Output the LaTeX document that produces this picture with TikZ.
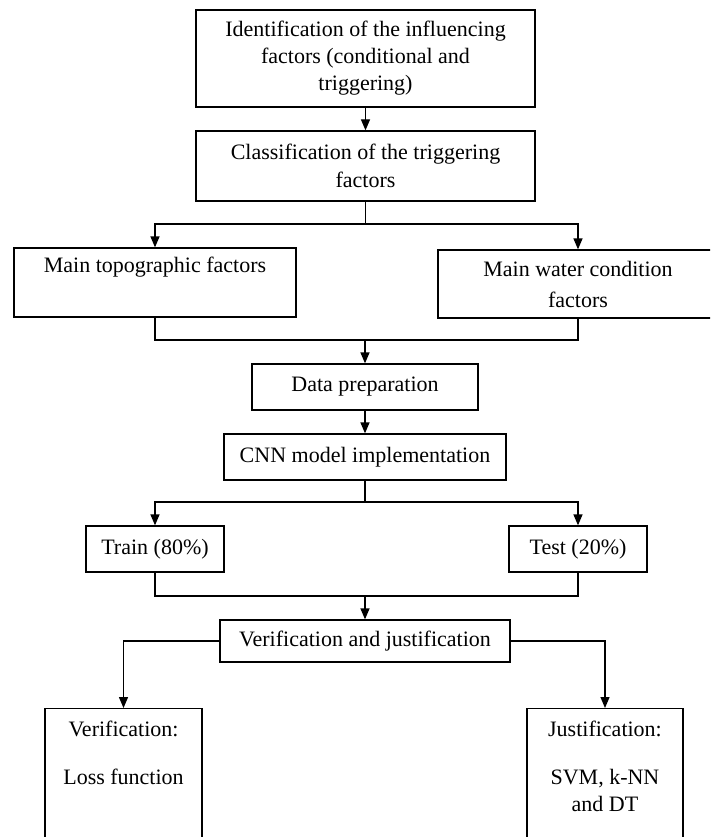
\documentclass[tikz,border=0pt]{standalone}
\usepackage{fontspec}
\setmainfont{Liberation Serif}
\usetikzlibrary{arrows.meta}
\begin{document}
\begin{tikzpicture}[x=1pt,y=-1pt,
  font=\fontsize{22pt}{27pt}\selectfont,
  box/.style={draw, line width=1.3pt, align=center, inner sep=0pt},
  conn/.style={line width=1.3pt},
  arr/.style={conn, -{Triangle[length=11pt,width=9pt]}}]
\useasboundingbox (0,0) rectangle (710,837);
\clip (0,0) rectangle (710,837);
\fill[white] (0,0) rectangle (710,837);
% boxes
\node[box, minimum width=339pt, minimum height=97pt] (b1) at (365.5,58.5)
  {Identification of the influencing\\factors (conditional and\\triggering)};
\node[box, minimum width=339pt, minimum height=70pt] (b2) at (365.5,166)
  {Classification of the triggering\\[1pt]factors};
\node[box, minimum width=282pt, minimum height=69pt] (lt) at (155,282.5)
  {Main topographic factors\\\strut};
\node[box, minimum width=280pt, minimum height=68pt] (rt) at (578,284)
  {Main water condition\\[4pt]factors};
\node[box, minimum width=226pt, minimum height=46pt] (dp) at (365,387)
  {Data preparation};
\node[box, minimum width=282pt, minimum height=46pt] (cnn) at (365,457)
  {CNN model implementation};
\node[box, minimum width=138pt, minimum height=46pt] (train) at (155,549)
  {Train (80\%)};
\node[box, minimum width=138pt, minimum height=46pt] (test) at (578,549)
  {Test (20\%)};
\node[box, minimum width=290pt, minimum height=42pt] (vj) at (365,641)
  {Verification and justification};
\node[box, anchor=north, minimum width=157pt, inner ysep=9.4pt] (vl) at (123.5,708)
  {\parbox[t][150pt][t]{150pt}{\centering\strut Verification:\\[21pt]Loss function}};
\node[box, anchor=north, minimum width=156pt, inner ysep=9.4pt] (vr) at (605,708)
  {\parbox[t][150pt][t]{150pt}{\centering\strut Justification:\\[21pt]SVM, k-NN\\and DT}};
% connectors
\coordinate (s1) at (365.5,224);
\coordinate (m1) at (365,340);
\coordinate (s2) at (365,502);
\coordinate (m2) at (365,596);
\draw[arr] (b1) -- (b2);
\draw[conn] (b2.south) -- (s1);
\draw[arr] (s1) -| (lt.north);
\draw[arr] (s1) -| (rt.north);
\draw[conn] (lt.south) |- (m1);
\draw[conn] (rt.south) |- (m1);
\draw[arr] (m1) -- (dp);
\draw[arr] (dp) -- (cnn);
\draw[conn] (cnn.south) -- (s2);
\draw[arr] (s2) -| (train.north);
\draw[arr] (s2) -| (test.north);
\draw[conn] (train.south) |- (m2);
\draw[conn] (test.south) |- (m2);
\draw[arr] (m2) -- (vj);
\draw[arr] (vj.west) -| (vl.north);
\draw[arr] (vj.east) -| (vr.north);
\end{tikzpicture}
\end{document}
